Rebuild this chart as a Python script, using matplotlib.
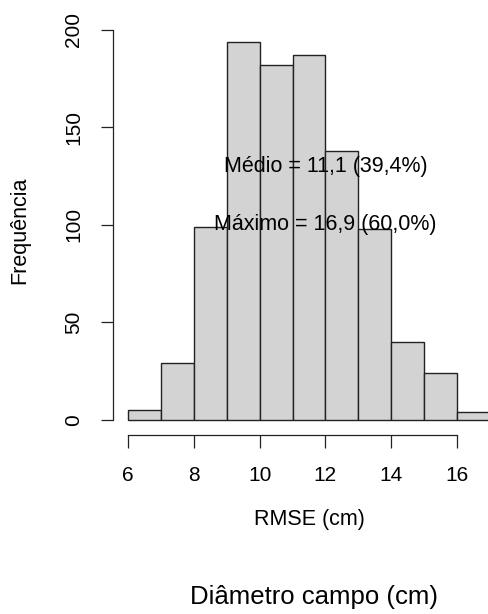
import numpy as np
import matplotlib
matplotlib.use("Agg")
from matplotlib import pyplot as plt

plt.rcParams['font.family'] = ['Liberation Sans', 'DejaVu Sans']

# histogram bins (RMSE, cm) and counts
bin_edges = [6, 7, 8, 9, 10, 11, 12, 13, 14, 15, 16, 17]
counts = [5, 29, 99, 194, 182, 187, 138, 98, 40, 24, 4]

x_ticks = [6, 8, 10, 12, 14, 16]
y_ticks = [0, 50, 100, 150, 200]

notes = ["Médio = 11,1 (39,4%)", "Máximo = 16,9 (60,0%)"]
note_x = [12, 12]
note_y = [130, 100]

fig = plt.figure(figsize=(4.89, 6.14), dpi=100)
ax = fig.add_axes([0.2321, 0.2915, 0.7679, 0.6653])

lefts = np.array(bin_edges[:-1])
widths = np.diff(bin_edges)
ax.bar(lefts, counts, width=widths, align='edge', color='#D3D3D3',
       edgecolor='#222222', linewidth=1.0)

for txt, x, y in zip(notes, note_x, note_y):
    ax.text(x, y, txt, ha='center', va='center', fontsize=15.5)

ax.set_xlim(5.56, 16.97)
ax.set_ylim(-7.76, 201.76)

# R-like axes
for s in ['top', 'right']:
    ax.spines[s].set_visible(False)
ax.spines['left'].set_bounds(0, 200)
ax.spines['bottom'].set_bounds(6, 16)
for s in ['left', 'bottom']:
    ax.spines[s].set_linewidth(0.9)
    ax.spines[s].set_color('#222222')

ax.set_xticks(x_ticks)
ax.set_yticks(y_ticks)
ax.set_yticklabels([str(v) for v in y_ticks], rotation=90, va='center')
ax.tick_params(axis='both', direction='out', length=9, width=0.9,
               color='#222222', labelsize=15, pad=13)

fig.text(20 / 489, 1 - 230 / 614, "Frequência", rotation=90,
         ha='center', va='center', fontsize=15.5)
fig.text(309 / 489, 1 - 520 / 614, "RMSE (cm)", ha='center', va='center',
         fontsize=15.5)
fig.text(314 / 489, 1 - 597 / 614, "Diâmetro campo (cm)", ha='center',
         va='center', fontsize=18.5)

fig.savefig("out.png", dpi=100)
plt.close(fig)
